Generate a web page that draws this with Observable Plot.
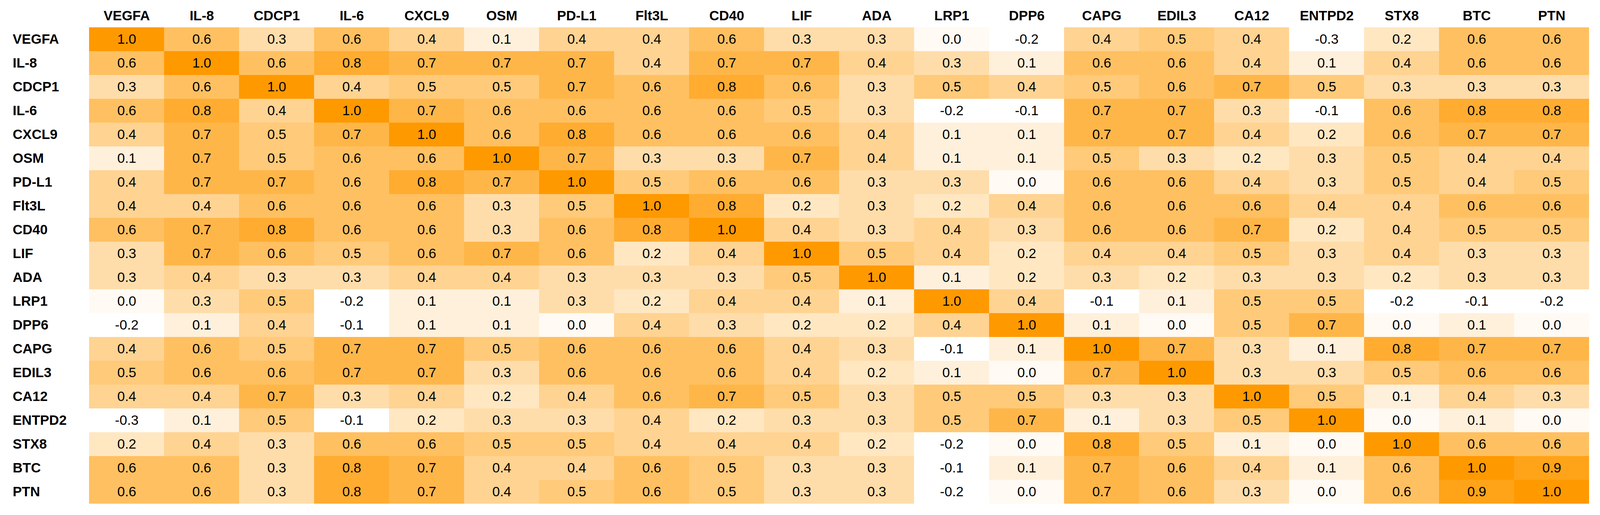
<!DOCTYPE html>
<html>
<head>
<meta charset="utf-8">
<script src="https://cdn.jsdelivr.net/npm/d3@7"></script>
<script src="https://cdn.jsdelivr.net/npm/@observablehq/plot@0.6"></script>
<style>
  html, body { margin: 0; padding: 0; background: #ffffff; overflow: hidden; }
  #chart svg { display: block; }
</style>
</head>
<body>
<div id="chart"></div>
<script>
const markers = ["VEGFA","IL-8","CDCP1","IL-6","CXCL9","OSM","PD-L1","Flt3L","CD40","LIF","ADA","LRP1","DPP6","CAPG","EDIL3","CA12","ENTPD2","STX8","BTC","PTN"];

const VEGFA  = [1.0,0.6,0.3,0.6,0.4,0.1,0.4,0.4,0.6,0.3,0.3,0.0,-0.2,0.4,0.5,0.4,-0.3,0.2,0.6,0.6];
const IL8    = [0.6,1.0,0.6,0.8,0.7,0.7,0.7,0.4,0.7,0.7,0.4,0.3,0.1,0.6,0.6,0.4,0.1,0.4,0.6,0.6];
const CDCP1  = [0.3,0.6,1.0,0.4,0.5,0.5,0.7,0.6,0.8,0.6,0.3,0.5,0.4,0.5,0.6,0.7,0.5,0.3,0.3,0.3];
const IL6    = [0.6,0.8,0.4,1.0,0.7,0.6,0.6,0.6,0.6,0.5,0.3,-0.2,-0.1,0.7,0.7,0.3,-0.1,0.6,0.8,0.8];
const CXCL9  = [0.4,0.7,0.5,0.7,1.0,0.6,0.8,0.6,0.6,0.6,0.4,0.1,0.1,0.7,0.7,0.4,0.2,0.6,0.7,0.7];
const OSM    = [0.1,0.7,0.5,0.6,0.6,1.0,0.7,0.3,0.3,0.7,0.4,0.1,0.1,0.5,0.3,0.2,0.3,0.5,0.4,0.4];
const PDL1   = [0.4,0.7,0.7,0.6,0.8,0.7,1.0,0.5,0.6,0.6,0.3,0.3,0.0,0.6,0.6,0.4,0.3,0.5,0.4,0.5];
const FLT3L  = [0.4,0.4,0.6,0.6,0.6,0.3,0.5,1.0,0.8,0.2,0.3,0.2,0.4,0.6,0.6,0.6,0.4,0.4,0.6,0.6];
const CD40   = [0.6,0.7,0.8,0.6,0.6,0.3,0.6,0.8,1.0,0.4,0.3,0.4,0.3,0.6,0.6,0.7,0.2,0.4,0.5,0.5];
const LIF    = [0.3,0.7,0.6,0.5,0.6,0.7,0.6,0.2,0.4,1.0,0.5,0.4,0.2,0.4,0.4,0.5,0.3,0.4,0.3,0.3];
const ADA    = [0.3,0.4,0.3,0.3,0.4,0.4,0.3,0.3,0.3,0.5,1.0,0.1,0.2,0.3,0.2,0.3,0.3,0.2,0.3,0.3];
const LRP1   = [0.0,0.3,0.5,-0.2,0.1,0.1,0.3,0.2,0.4,0.4,0.1,1.0,0.4,-0.1,0.1,0.5,0.5,-0.2,-0.1,-0.2];
const DPP6   = [-0.2,0.1,0.4,-0.1,0.1,0.1,0.0,0.4,0.3,0.2,0.2,0.4,1.0,0.1,0.0,0.5,0.7,0.0,0.1,0.0];
const CAPG   = [0.4,0.6,0.5,0.7,0.7,0.5,0.6,0.6,0.6,0.4,0.3,-0.1,0.1,1.0,0.7,0.3,0.1,0.8,0.7,0.7];
const EDIL3  = [0.5,0.6,0.6,0.7,0.7,0.3,0.6,0.6,0.6,0.4,0.2,0.1,0.0,0.7,1.0,0.3,0.3,0.5,0.6,0.6];
const CA12   = [0.4,0.4,0.7,0.3,0.4,0.2,0.4,0.6,0.7,0.5,0.3,0.5,0.5,0.3,0.3,1.0,0.5,0.1,0.4,0.3];
const ENTPD2 = [-0.3,0.1,0.5,-0.1,0.2,0.3,0.3,0.4,0.2,0.3,0.3,0.5,0.7,0.1,0.3,0.5,1.0,0.0,0.1,0.0];
const STX8   = [0.2,0.4,0.3,0.6,0.6,0.5,0.5,0.4,0.4,0.4,0.2,-0.2,0.0,0.8,0.5,0.1,0.0,1.0,0.6,0.6];
const BTC    = [0.6,0.6,0.3,0.8,0.7,0.4,0.4,0.6,0.5,0.3,0.3,-0.1,0.1,0.7,0.6,0.4,0.1,0.6,1.0,0.9];
const PTN    = [0.6,0.6,0.3,0.8,0.7,0.4,0.5,0.6,0.5,0.3,0.3,-0.2,0.0,0.7,0.6,0.3,0.0,0.6,0.9,1.0];

const matrixRows = [VEGFA, IL8, CDCP1, IL6, CXCL9, OSM, PDL1, FLT3L, CD40, LIF, ADA, LRP1, DPP6, CAPG, EDIL3, CA12, ENTPD2, STX8, BTC, PTN];

const cells = [];
matrixRows.forEach((row, i) => {
  row.forEach((v, j) => cells.push({row: markers[i], col: markers[j], value: v}));
});

// Fit the chart to the actual viewport (the reference is 4351×1319).
const W = Math.min(4351, window.innerWidth || 4351);
const H = Math.min(1319, window.innerHeight || 1319);
const kx = W / 4351, ky = H / 1319;
const font = "'Liberation Sans', Arial, Helvetica, sans-serif";
const fs = Math.round(35 * Math.min(1, (kx + ky) / 2 + 0.02));

const chart = Plot.plot({
  width: W,
  height: H,
  marginLeft: 235 * kx,
  marginRight: 22 * kx,
  marginTop: 62 * ky,
  marginBottom: 22 * ky,
  style: {fontFamily: font, background: "#ffffff", overflow: "visible"},
  x: {domain: markers, padding: 0, axis: null},
  y: {domain: markers, padding: 0, axis: null},
  color: {type: "linear", domain: [-0.05, 1], range: ["#ffffff", "#ff9900"], clamp: true},
  marks: [
    Plot.cell(cells, {x: "col", y: "row", fill: "value", inset: 0}),
    Plot.text(cells, {x: "col", y: "row", text: d => d.value.toFixed(1), fill: "#000000", fontSize: fs, fontFamily: font}),
    Plot.text(markers, {x: d => d, frameAnchor: "top", dy: -22 * ky, lineAnchor: "middle", text: d => d, fontSize: fs, fontWeight: "bold", fill: "#000000", fontFamily: font}),
    Plot.text(markers, {y: d => d, frameAnchor: "left", dx: -201 * kx, textAnchor: "start", text: d => d, fontSize: fs, fontWeight: "bold", fill: "#000000", fontFamily: font})
  ]
});

document.getElementById("chart").appendChild(chart);
</script>
</body>
</html>
